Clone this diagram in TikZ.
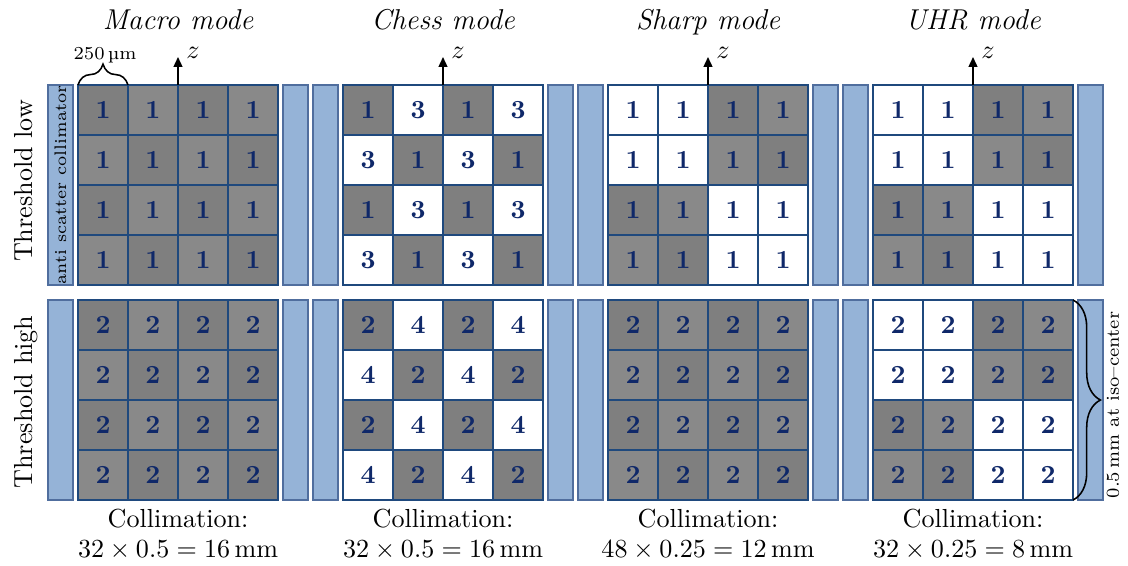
\documentclass[tikz,border=0pt]{standalone}
\usepackage{fontspec}
\usetikzlibrary{arrows.meta,decorations.pathreplacing}

% one drawing unit = one pixel of the 1128 x 565 layout
\newlength\px
\setlength\px{0.3833pt}

\definecolor{gridblue}{RGB}{31,73,125}
\definecolor{barfill}{RGB}{149,179,215}
\definecolor{barline}{RGB}{80,110,158}
\definecolor{digit}{RGB}{15,40,105}
\definecolor{cd}{RGB}{127,127,127}
\definecolor{cl}{RGB}{137,137,137}
\definecolor{cw}{RGB}{255,255,255}

\tikzset{
  cell/.style={rectangle, minimum size=50\px, inner sep=0pt, outer sep=0pt,
    draw=gridblue, line width=0.75pt, text=digit, font=\bfseries},
  bar/.style={rectangle, minimum width=25\px, minimum height=200\px,
    inner sep=0pt, outer sep=0pt, draw=barline, fill=barfill, line width=0.45pt},
  title/.style={anchor=base, font=\fontsize{11}{13}\selectfont\itshape},
  thresh/.style={anchor=base, rotate=90},
  zarrow/.style={line width=0.6pt, -{Triangle[length=3.8pt,width=3.4pt]}},
  zlab/.style={inner sep=0pt},
  coll/.style={anchor=base},
  smalltext/.style={font=\scriptsize, inner sep=0pt},
  bracebar/.style={decorate, line width=0.6pt},
}

% detector panel: 4x4 pixel cells plus the collimator bars on both sides
% #1 name prefix, #2 left edge, #3 top edge, #4 cells as shade/number
\newcommand\detgrid[4]{%
  \node[bar] (#1-lb) at ({#2-17.5},{#3+100}) {};
  \node[bar] (#1-rb) at ({#2+217.5},{#3+100}) {};
  \foreach \f/\n [count=\k from 0] in {#4}{%
    \pgfmathtruncatemacro\gr{\k/4}%
    \pgfmathtruncatemacro\gc{mod(\k,4)}%
    \node[cell, fill=c\f] (#1-\gr-\gc) at ({#2+25+50*\gc},{#3+25+50*\gr}) {\n};
  }%
}

\begin{document}
\begin{tikzpicture}[x=\px, y=-\px]
\useasboundingbox (0,0) rectangle (1128,565);

% column titles
\node[title] (t-macro) at (178,29) {Macro mode};
\node[title] (t-chess) at (443,29) {Chess mode};
\node[title] (t-sharp) at (708,29) {Sharp mode};
\node[title] (t-uhr)   at (973,29) {UHR mode};

% row labels
\node[thresh] (thr-low)  at (32,181) {Threshold low};
\node[thresh] (thr-high) at (32,402) {Threshold high};

% Macro mode
\detgrid{mu}{78}{85}{d/1,l/1,d/1,l/1, l/1,d/1,l/1,d/1, d/1,l/1,d/1,l/1, l/1,d/1,l/1,d/1}
\detgrid{ml}{78}{300}{d/2,l/2,d/2,l/2, l/2,d/2,l/2,d/2, d/2,l/2,d/2,l/2, l/2,d/2,l/2,d/2}

% Chess mode
\detgrid{chu}{343}{85}{d/1,w/3,d/1,w/3, w/3,d/1,w/3,d/1, d/1,w/3,d/1,w/3, w/3,d/1,w/3,d/1}
\detgrid{chl}{343}{300}{d/2,w/4,d/2,w/4, w/4,d/2,w/4,d/2, d/2,w/4,d/2,w/4, w/4,d/2,w/4,d/2}

% Sharp mode
\detgrid{su}{608}{85}{w/1,w/1,d/1,l/1, w/1,w/1,l/1,d/1, d/1,l/1,w/1,w/1, l/1,d/1,w/1,w/1}
\detgrid{sl}{608}{300}{d/2,l/2,d/2,l/2, l/2,d/2,l/2,d/2, d/2,l/2,d/2,l/2, l/2,d/2,l/2,d/2}

% UHR mode
\detgrid{uu}{873}{85}{w/1,w/1,d/1,l/1, w/1,w/1,l/1,d/1, d/1,l/1,w/1,w/1, l/1,d/1,w/1,w/1}
\detgrid{ul}{873}{300}{w/2,w/2,d/2,l/2, w/2,w/2,l/2,d/2, d/2,l/2,w/2,w/2, l/2,d/2,w/2,w/2}

% collimator label inside the first bar
\node[inner sep=0pt, rotate=90, font=\fontsize{6.4}{8}\selectfont] (asc) at (mu-lb) {anti scatter collimator};

% z axes
\coordinate (mu-z)  at (178,57);
\coordinate (chu-z) at (443,57);
\coordinate (su-z)  at (708,57);
\coordinate (uu-z)  at (973,57);
\draw[zarrow] (mu-0-1.north east)  -- (mu-z);
\draw[zarrow] (chu-0-1.north east) -- (chu-z);
\draw[zarrow] (su-0-1.north east)  -- (su-z);
\draw[zarrow] (uu-0-1.north east)  -- (uu-z);
\node[zlab] (mu-zl)  at (193,53) {$z$};
\node[zlab] (chu-zl) at (458,53) {$z$};
\node[zlab] (su-zl)  at (723,53) {$z$};
\node[zlab] (uu-zl)  at (988,53) {$z$};

% pixel pitch
\draw[bracebar, decoration={brace, amplitude=8pt}]
  (mu-0-0.north west) -- (mu-0-0.north east);
\node[smalltext] (pitch) at (105,55) {250\,µm};

% slice width at iso-center
\draw[bracebar, decoration={brace, amplitude=10.5pt}]
  (ul-0-3.north east) -- (ul-3-3.south east);
\node[smalltext, rotate=90] (iso) at (1113,405) {0.5\,mm at iso--center};

% collimation
\node[coll] (mc1)  at (178,527) {Collimation:};
\node[coll] (mc2)  at (178,557) {$32\times0.5=16\,\mathrm{mm}$};
\node[coll] (chc1) at (443,527) {Collimation:};
\node[coll] (chc2) at (443,557) {$32\times0.5=16\,\mathrm{mm}$};
\node[coll] (sc1)  at (708,527) {Collimation:};
\node[coll] (sc2)  at (708,557) {$48\times0.25=12\,\mathrm{mm}$};
\node[coll] (uc1)  at (973,527) {Collimation:};
\node[coll] (uc2)  at (973,557) {$32\times0.25=8\,\mathrm{mm}$};
\end{tikzpicture}
\end{document}
